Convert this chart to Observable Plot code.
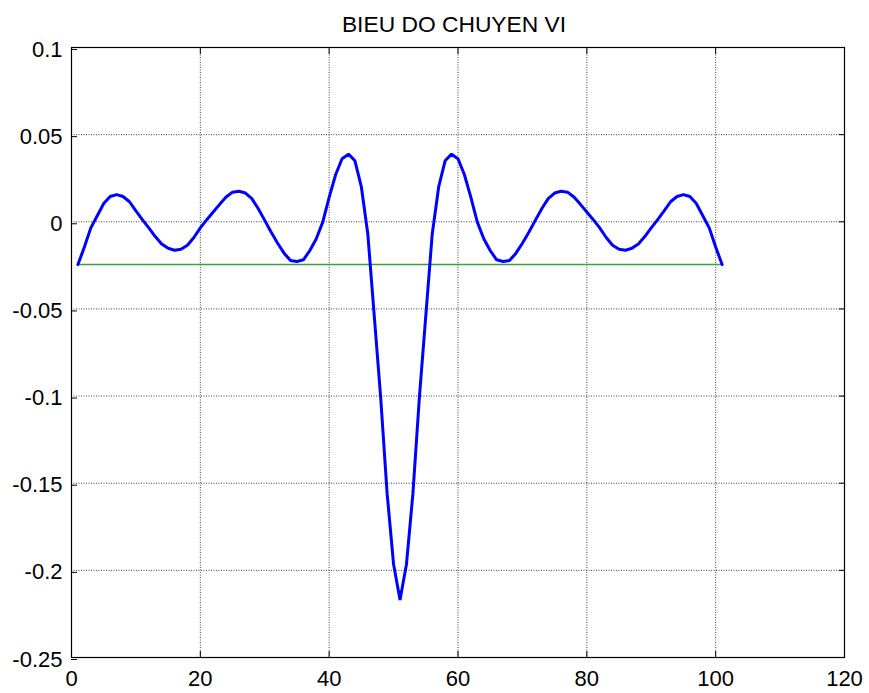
<!DOCTYPE html>
<html><head><meta charset="utf-8">
<script src="https://cdn.jsdelivr.net/npm/d3@7"></script>
<script src="https://cdn.jsdelivr.net/npm/@observablehq/plot@0.6"></script>
<style>body{margin:0;background:#fff}</style>
</head><body><div id="chart"></div>
<script>
const title = "BIEU DO CHUYEN VI";
// node index 1..101
const nodes = d3.range(1, 102);
// displacement at each node
const displacement = [
  -0.0245, -0.0145, -0.0035, 0.0035, 0.0105, 0.0145, 0.0156, 0.0145, 0.0115, 0.0062,
   0.0012, -0.0035, -0.0085, -0.0127, -0.0152, -0.0163, -0.0158, -0.0135, -0.0090, -0.0035,
   0.0012, 0.0056, 0.0100, 0.0142, 0.0170, 0.0175, 0.0165, 0.0133, 0.0075, 0.0008,
  -0.0060, -0.0123, -0.0180, -0.0222, -0.0228, -0.0218, -0.0165, -0.0097, -0.0002, 0.0140,
   0.0270, 0.0362, 0.0388, 0.0350, 0.0200, -0.0070, -0.0540, -0.1010, -0.1560, -0.1965,
  -0.2170,
  -0.1965, -0.1560, -0.1010, -0.0540, -0.0070, 0.0200, 0.0350, 0.0388, 0.0362, 0.0270,
   0.0140, -0.0002, -0.0097, -0.0165, -0.0218, -0.0228, -0.0222, -0.0180, -0.0123, -0.0060,
   0.0008, 0.0075, 0.0133, 0.0165, 0.0175, 0.0170, 0.0142, 0.0100, 0.0056, 0.0012,
  -0.0035, -0.0090, -0.0135, -0.0158, -0.0163, -0.0152, -0.0127, -0.0085, -0.0035, 0.0012,
   0.0062, 0.0115, 0.0145, 0.0156, 0.0145, 0.0105, 0.0035, -0.0035, -0.0145, -0.0245
];
// reference (green) line
const baselineX = [1, 101];
const baselineY = [-0.0245, -0.0245];

const xTicks = [0, 20, 40, 60, 80, 100, 120];
const xTickLabels = ["0", "20", "40", "60", "80", "100", "120"];
const yTicks = [-0.25, -0.2, -0.15, -0.1, -0.05, 0, 0.05, 0.1];
const yTickLabels = ["-0.25", "-0.2", "-0.15", "-0.1", "-0.05", "0", "0.05", "0.1"];

const curve = nodes.map((n, i) => ({x: n, y: displacement[i]}));
const base = baselineX.map((x, i) => ({x, y: baselineY[i]}));

const fmtX = d => xTickLabels[xTicks.indexOf(d)] ?? "";
const fmtY = d => {
  const i = yTicks.findIndex(t => Math.abs(t - d) < 1e-9);
  return i >= 0 ? yTickLabels[i] : "";
};

const font = "Liberation Sans, Arial, Helvetica, sans-serif";
const chart = Plot.plot({
  width: 869,
  height: 693,
  marginLeft: 71,
  marginRight: 25,
  marginTop: 47,
  marginBottom: 36,
  style: {fontFamily: font, fontSize: "22px", color: "black", background: "white", overflow: "visible"},
  x: {domain: [0, 120], label: null},
  y: {domain: [-0.25, 0.1], label: null},
  marks: [
    Plot.gridX(xTicks, {stroke: "#222", strokeOpacity: 0.85, strokeDasharray: "1,1.5", strokeWidth: 1}),
    Plot.gridY(yTicks, {stroke: "#222", strokeOpacity: 0.85, strokeDasharray: "1,1.5", strokeWidth: 1}),
    Plot.line(base, {x: "x", y: "y", stroke: "#3f9f3f", strokeWidth: 1.3}),
    Plot.line(curve, {x: "x", y: "y", stroke: "#0000ff", strokeWidth: 3, strokeLinejoin: "miter"}),
    Plot.frame({stroke: "black", strokeWidth: 1.2}),
    Plot.axisX(xTicks, {anchor: "bottom", tickSize: -6, tickPadding: 19, tickFormat: fmtX, fontSize: 22, label: null}),
    Plot.axisX(xTicks, {anchor: "top", tickSize: -6, tickFormat: () => "", label: null}),
    Plot.axisY(yTicks, {anchor: "left", tickSize: -6, tickPadding: 15, tickFormat: fmtY, fontSize: 22, dy: 2, label: null}),
    Plot.axisY(yTicks, {anchor: "right", tickSize: -6, tickFormat: () => "", label: null}),
    Plot.text([title], {frameAnchor: "top", dy: -16, dx: -4, lineAnchor: "bottom", fontSize: 22.8, text: d => d, fill: "black"})
  ]
});
document.getElementById("chart").appendChild(chart);
</script>
</body></html>
